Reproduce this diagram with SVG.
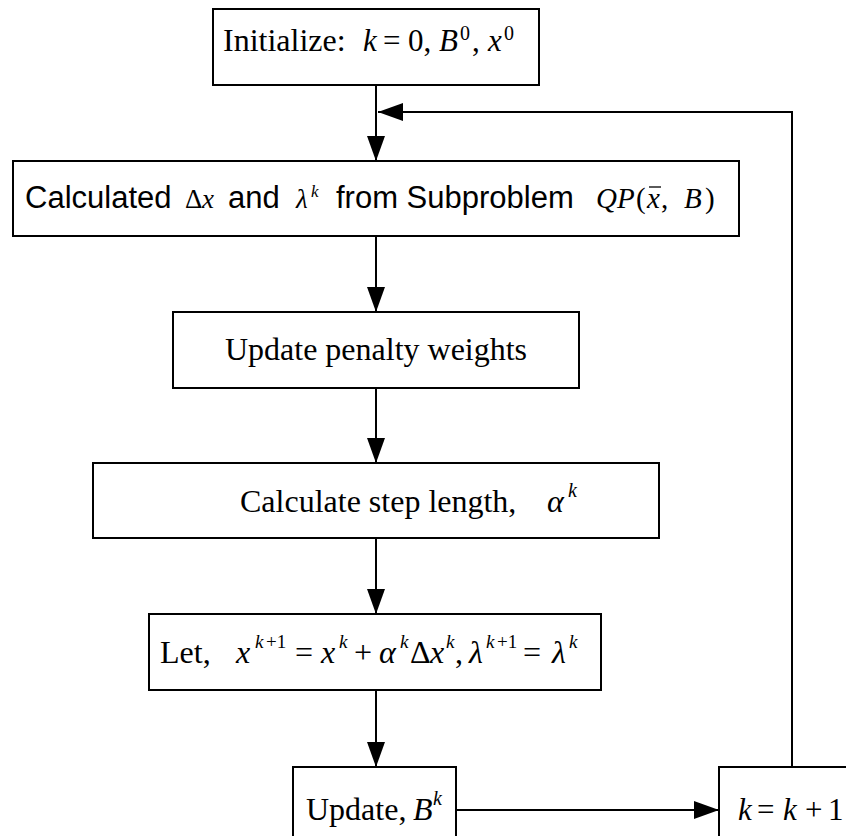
<svg xmlns="http://www.w3.org/2000/svg" width="846" height="836" viewBox="0 0 846 836">
<style>
.box{fill:#fff;stroke:#000;stroke-width:2}
.t{font-family:"Liberation Serif","Times New Roman",serif;font-size:32px;fill:#000}
.a{font-family:"Liberation Sans",Arial,sans-serif;font-size:31px;fill:#000}
.m{font-family:"Liberation Serif","Times New Roman",serif;font-style:italic;fill:#000}
.u{font-style:normal}
.c{fill:none;stroke:#000;stroke-width:2}
</style>
<defs>
<marker id="ah" viewBox="0 0 25 18" refX="25" refY="9" markerWidth="25" markerHeight="18" markerUnits="userSpaceOnUse" orient="auto">
<path d="M0,0 L25,9 L0,18 z" fill="#000"/>
</marker>
</defs>
<g id="connectors">
<line class="c" x1="376" y1="85" x2="376" y2="161" marker-end="url(#ah)"/>
<line class="c" x1="376" y1="236" x2="376" y2="312" marker-end="url(#ah)"/>
<line class="c" x1="376" y1="388" x2="376" y2="463" marker-end="url(#ah)"/>
<line class="c" x1="376" y1="538" x2="376" y2="614" marker-end="url(#ah)"/>
<line class="c" x1="376" y1="690" x2="376" y2="767" marker-end="url(#ah)"/>
<line class="c" x1="456" y1="810" x2="719" y2="810" marker-end="url(#ah)"/>
<path class="c" d="M792,767 V112 H378" marker-end="url(#ah)"/>
</g>
<g id="init">
<rect class="box" x="213" y="9" width="326" height="76"/>
<text class="t" x="223" y="51" font-size="31">Initialize:</text>
<text class="m" y="51" font-size="31"><tspan x="363">k</tspan><tspan class="u" x="383">=</tspan><tspan class="u" x="408">0,</tspan><tspan x="439">B</tspan><tspan x="472" class="u">,</tspan><tspan x="488">x</tspan></text>
<text class="m u" y="40" font-size="20"><tspan x="460">0</tspan><tspan x="504">0</tspan></text>
</g>
<g id="qp">
<rect class="box" x="13" y="161" width="726" height="75"/>
<text class="a" y="208"><tspan x="25">Calculated</tspan><tspan x="228">and</tspan><tspan x="336">from Subproblem</tspan></text>
<text class="m" y="208" font-size="27"><tspan class="u" x="185">Δ</tspan><tspan x="202">x</tspan><tspan x="296">λ</tspan></text>
<text class="m" y="208" font-size="29"><tspan x="596">Q</tspan><tspan x="617">P</tspan><tspan class="u" x="636">(</tspan><tspan x="647">x</tspan><tspan class="u" x="661">,</tspan><tspan x="684">B</tspan><tspan class="u" x="705">)</tspan></text>
<text class="m" x="311" y="197" font-size="17">k</text>
<line x1="649" y1="187" x2="661" y2="187" stroke="#000" stroke-width="1.3"/>
</g>
<g id="penalty">
<rect class="box" x="173" y="312" width="406" height="76"/>
<text class="t" x="376" y="360" text-anchor="middle">Update penalty weights</text>
</g>
<g id="step">
<rect class="box" x="93" y="463" width="566" height="75"/>
<text class="t" x="240" y="512">Calculate step length,</text>
<text class="m" x="547" y="512" font-size="32">α</text>
<text class="m" x="568" y="497" font-size="20">k</text>
</g>
<g id="let">
<rect class="box" x="149" y="614" width="452" height="76"/>
<text class="t" x="160" y="663">Let,</text>
<text class="m" y="663" font-size="32"><tspan x="236">x</tspan><tspan class="u" x="295">=</tspan><tspan x="321">x</tspan><tspan class="u" x="354">+</tspan><tspan x="379">α</tspan><tspan class="u" x="410">Δ</tspan><tspan x="430">x</tspan><tspan class="u" x="455">,</tspan><tspan x="469">λ</tspan><tspan class="u" x="523">=</tspan><tspan x="552">λ</tspan></text>
<text class="m" y="648" font-size="19"><tspan x="255">k</tspan><tspan class="u" x="266">+1</tspan><tspan x="339">k</tspan><tspan x="400">k</tspan><tspan x="446">k</tspan><tspan x="486">k</tspan><tspan class="u" x="497">+1</tspan><tspan x="569">k</tspan></text>
</g>
<g id="updateB">
<rect class="box" x="293" y="767" width="163" height="100"/>
<text class="t" x="306" y="820">Update,</text>
<text class="m" x="413" y="820" font-size="32">B</text>
<text class="m" x="433" y="805" font-size="20">k</text>
</g>
<g id="incr">
<rect class="box" x="719" y="767" width="160" height="100"/>
<text class="m" y="820" font-size="31"><tspan x="738">k</tspan><tspan class="u" x="757">=</tspan><tspan x="783">k</tspan><tspan class="u" x="805">+</tspan><tspan class="u" x="828">1</tspan></text>
</g>
</svg>
